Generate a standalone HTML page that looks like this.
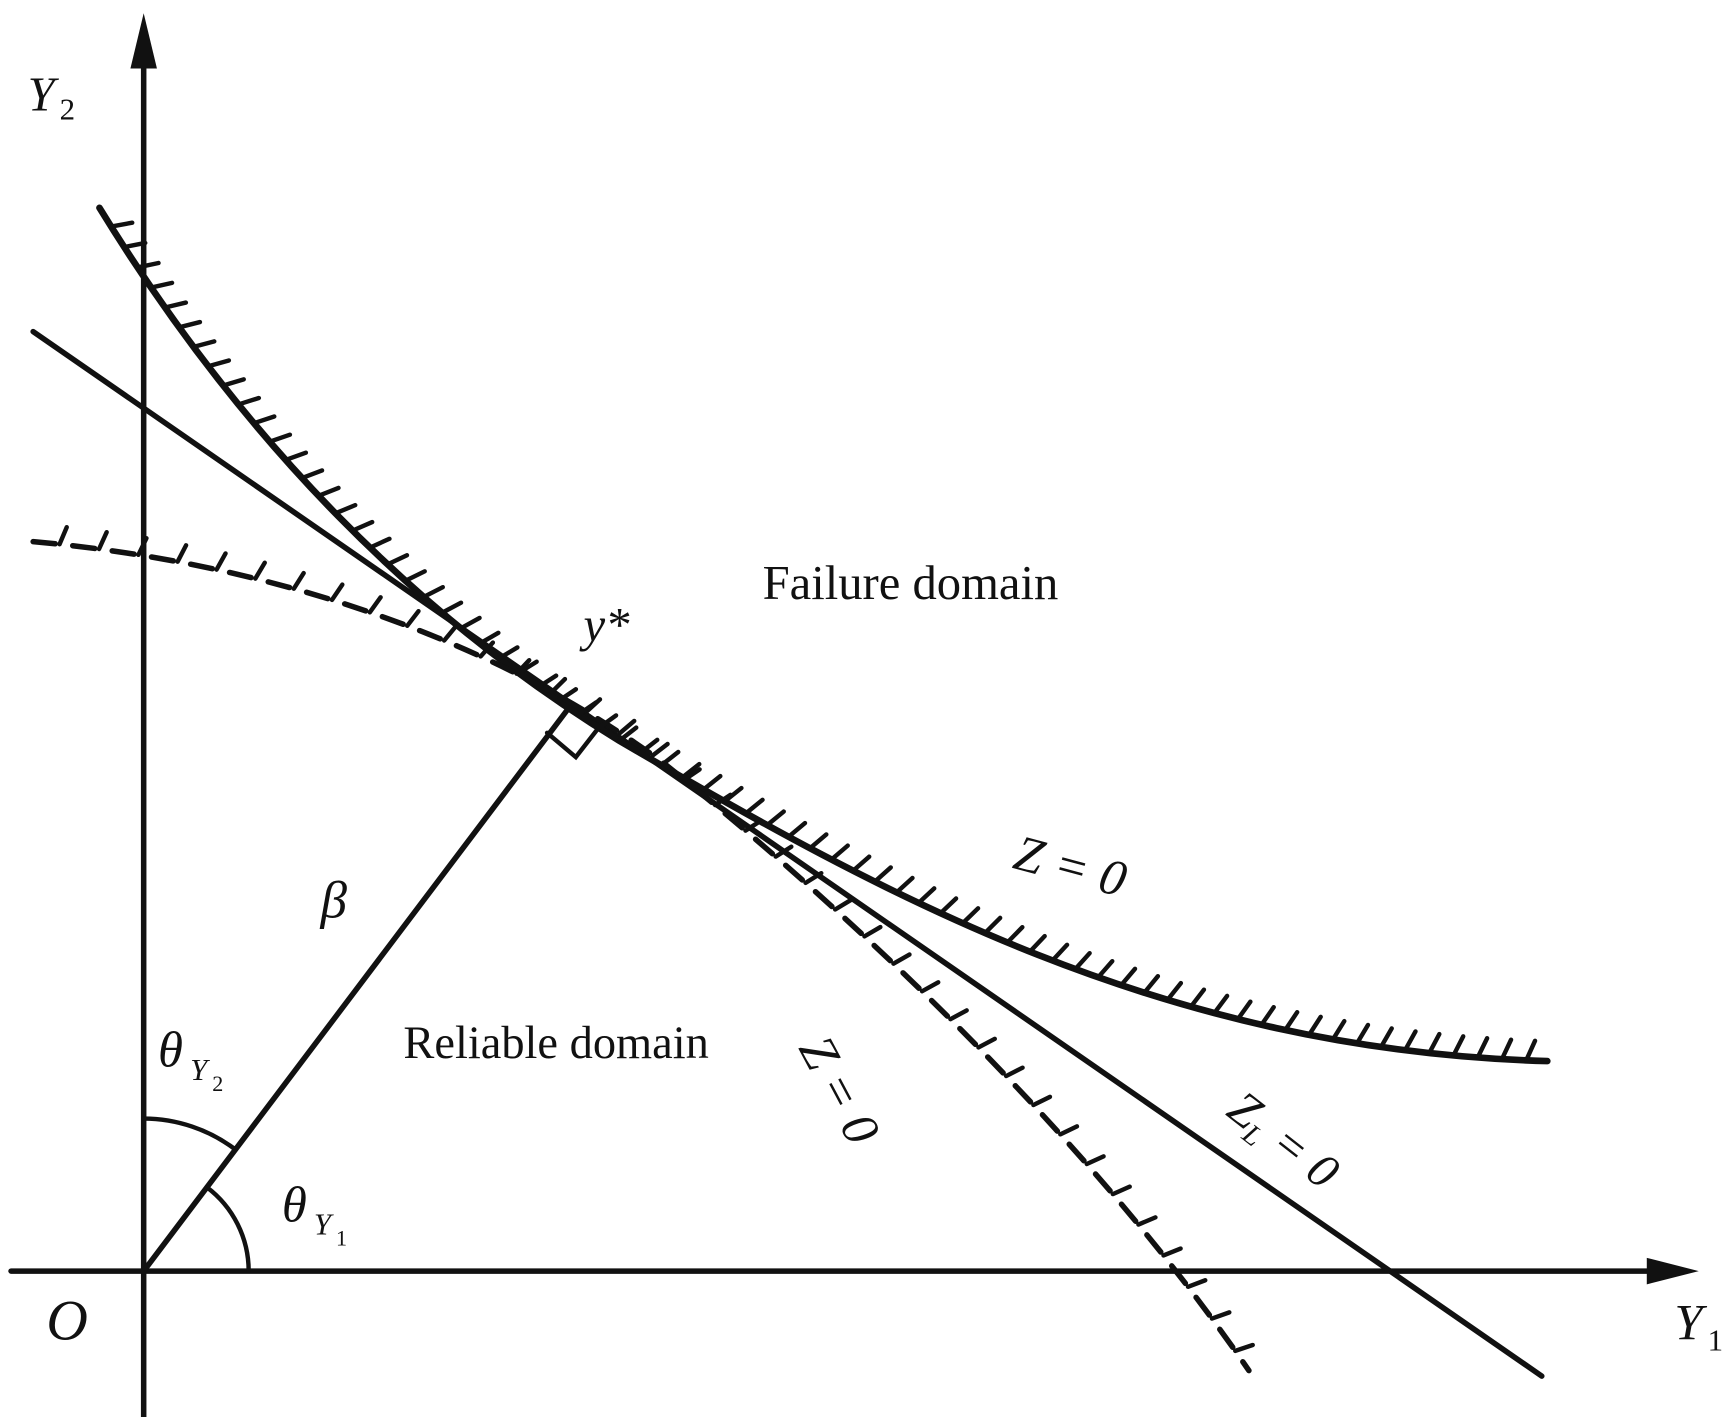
<!DOCTYPE html>
<html><head><meta charset="utf-8"><style>
html,body{margin:0;padding:0;background:#fff;}
svg{display:block;}
text{font-family:"Liberation Serif",serif;fill:#111;}
</style></head><body>
<svg id="s" width="1733" height="1417" viewBox="0 0 1568 1282" preserveAspectRatio="none" xmlns="http://www.w3.org/2000/svg">
<rect width="1568" height="1282" fill="#fff"/>
<g stroke="#111" fill="none" stroke-linecap="round">
<line x1="130" y1="40" x2="130" y2="1282" stroke-width="5"/>
<polygon points="130,12 118,62 142,62" fill="#111" stroke="none"/>
<line x1="10" y1="1150" x2="1510" y2="1150" stroke-width="5"/>
<polygon points="1537,1150 1490,1138 1490,1162" fill="#111" stroke="none"/>
<line x1="30" y1="300" x2="1395" y2="1245" stroke-width="5"/>
<line x1="130" y1="1150" x2="515" y2="640" stroke-width="5"/>
<polyline points="495,663 521,685 542,658" stroke-width="4"/>
<path d="M130,1012 A138,138 0 0 1 213,1040" stroke-width="4"/>
<path d="M187,1074 A95,95 0 0 1 225,1150" stroke-width="4"/>
<path id="c1" d="M90,188 C220,400 380,560 560,670 C800,810 1050,950 1400,960" stroke-width="6"/>
<path id="c2" d="M30,490 C250,510 450,580 600,690 C800,850 1000,1050 1130,1240" stroke-width="5" stroke-dasharray="20,16"/>
<g id="h1" stroke-width="4"></g>
<g id="h2" stroke-width="4"></g>
</g>
<text x="25" y="100" font-size="44" font-style="italic">Y</text><text x="54" y="108" font-size="28">2</text>
<text x="690" y="542" font-size="44">Failure domain</text>
<text x="528" y="580" font-size="44" font-style="italic">y*</text>
<text x="365" y="957" font-size="42">Reliable domain</text>
<text x="290" y="830" font-size="48" font-style="italic">β</text>
<text x="143" y="965" font-size="46" font-style="italic">θ</text><text x="172" y="977" font-size="28" font-style="italic">Y</text><text x="192" y="987" font-size="20">2</text>
<text x="255" y="1105" font-size="46" font-style="italic">θ</text><text x="284" y="1117" font-size="28" font-style="italic">Y</text><text x="304" y="1127" font-size="20">1</text>
<text x="42" y="1212" font-size="52" font-style="italic">O</text>
<text x="1515" y="1212" font-size="46" font-style="italic">Y</text><text x="1545" y="1222" font-size="28">1</text>
<text transform="translate(915,785) rotate(15)" font-size="46" font-style="italic">Z = 0</text>
<text transform="translate(722,948) rotate(62)" font-size="46" font-style="italic">Z = 0</text>
<text transform="translate(1108,1008) rotate(38)" font-size="44" font-style="italic">Z<tspan font-size="26" dy="8">L</tspan><tspan dy="-8"> = 0</tspan></text>
</svg>
<script>
function hatch(pid,gid,step,len,side,start,end,lean){
 var p=document.getElementById(pid),g=document.getElementById(gid),L=p.getTotalLength();
 for(var s=start;s<L-end;s+=step){
  var a=p.getPointAtLength(s),b=p.getPointAtLength(s+1);
  var dx=b.x-a.x,dy=b.y-a.y,n=Math.hypot(dx,dy);dx/=n;dy/=n;
  var nx=dy*side,ny=-dx*side;
  var tx=a.x+nx*len+dx*len*lean,ty=a.y+ny*len+dy*len*lean;
  var l=document.createElementNS("http://www.w3.org/2000/svg","line");
  l.setAttribute("x1",a.x);l.setAttribute("y1",a.y);l.setAttribute("x2",tx);l.setAttribute("y2",ty);
  g.appendChild(l);
 }
}
hatch("c1","h1",22,18,1,20,5,0.4);
hatch("c2","h2",36,16,1,24,5,0.3);
</script>
</body></html>
